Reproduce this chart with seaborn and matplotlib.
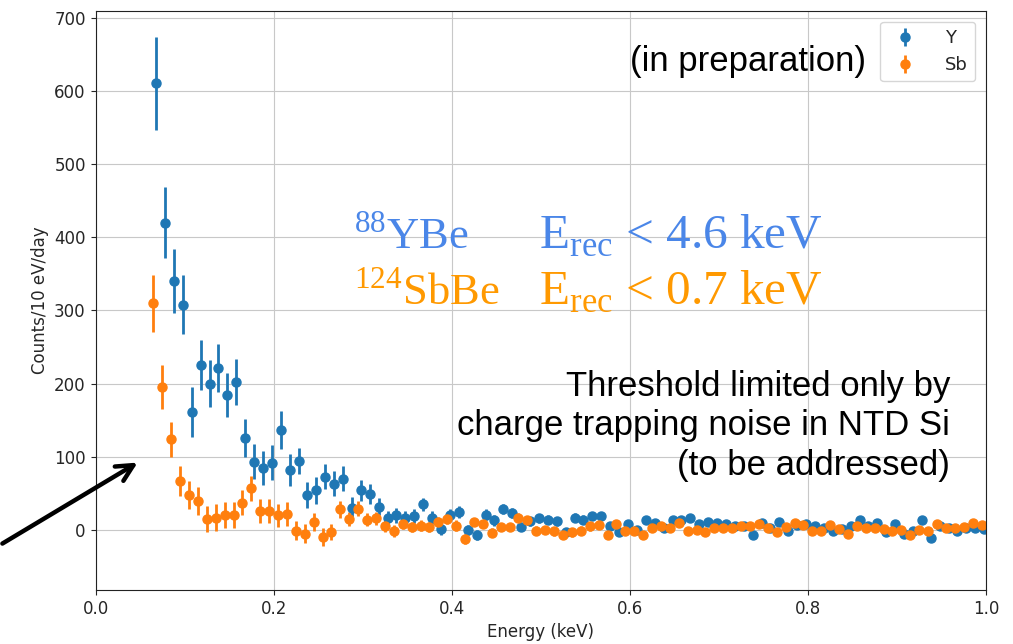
import numpy as np
import pandas as pd
import matplotlib
matplotlib.use('Agg')
import matplotlib.pyplot as plt
import seaborn as sns

# bin centres (10 eV bins); the Y series is drawn slightly offset from Sb
sb_energy = np.round(np.arange(0.065, 1.0, 0.01), 3)
y_energy = np.round(sb_energy + 0.003, 3)

y_counts = [610, 420, 340, 308, 161, 225, 200, 221, 184, 202,
            126, 93, 85, 92, 137, 82, 94, 48, 54, 73,
            63, 70, 30, 54, 49, 32, 16, 20, 17, 19,
            35, 17, 1, 21, 25, 0, -7, 21, 13, 29,
            23, 4, 12, 16, 14, 12, -3, 17, 14, 19,
            19, 5, -3, 8, 0, 13, 9, 3, 13, 14,
            16, 8, 11, 9, 8, 5, 5, -7, 9, 2,
            11, -2, 7, 8, 6, 3, -1, 1, 5, 13,
            6, 9, -3, 8, -5, -1, 13, -11, 5, 3,
            -2, 2, 2, 1]
y_err = [63, 49, 44, 40, 34, 34, 32, 33, 30, 31,
         26, 24, 23, 24, 26, 22, 18, 18, 18, 17,
         17, 17, 15, 14, 14, 12, 10, 10, 9, 9,
         9, 9, 8, 8, 8, 7, 7, 7, 7, 7,
         7, 6, 6, 6, 6, 6, 6, 6, 6, 6,
         5, 5, 5, 5, 5, 5, 5, 5, 5, 5,
         4, 4, 4, 4, 4, 4, 4, 4, 4, 4,
         4, 4, 4, 4, 4, 4, 4, 4, 4, 4,
         4, 4, 4, 4, 4, 4, 4, 4, 4, 4,
         4, 4, 4, 4]

sb_counts = [310, 195, 124, 67, 48, 39, 15, 17, 20, 20,
             37, 57, 26, 26, 20, 22, -1, -5, 11, -10,
             -3, 28, 15, 29, 14, 16, 5, -1, 8, 4,
             6, 4, 11, 15, 6, -12, 11, 8, -4, 4,
             4, 17, 13, -1, 0, -2, -7, -3, -1, 5,
             7, -7, 8, -1, -1, -7, 2, 5, 2, 10,
             -1, 0, -3, 2, 2, 2, 5, 5, 8, 2,
             -3, 4, 10, 7, -1, -1, 7, 1, -5, 5,
             2, 2, 1, -2, 0, -7, 0, -2, 8, 2,
             2, 4, 10, 7]
sb_err = [39, 30, 24, 20, 19, 19, 18, 18, 18, 18,
          17, 17, 16, 16, 16, 16, 13, 13, 12, 12,
          11, 11, 10, 10, 9, 9, 8, 8, 7, 7,
          7, 7, 7, 7, 7, 7, 6, 6, 6, 6,
          6, 6, 6, 6, 6, 6, 6, 6, 6, 6,
          5, 5, 5, 5, 5, 5, 5, 5, 5, 5,
          4, 4, 4, 4, 4, 4, 4, 4, 4, 4,
          4, 4, 4, 4, 4, 4, 4, 4, 4, 4,
          4, 4, 4, 4, 4, 4, 4, 4, 4, 4,
          4, 4, 4, 4]

df = pd.concat([
    pd.DataFrame({'energy': y_energy, 'counts': y_counts, 'err': y_err, 'source': 'Y'}),
    pd.DataFrame({'energy': sb_energy, 'counts': sb_counts, 'err': sb_err, 'source': 'Sb'}),
])

sns.set_style('ticks', {'axes.grid': True, 'grid.color': '#c8c8c8', 'axes.edgecolor': '#222222'})
plt.rcParams['mathtext.fontset'] = 'custom'
plt.rcParams['mathtext.rm'] = 'Liberation Serif'
palette = {'Y': '#1f77b4', 'Sb': '#ff7f0e'}

fig = plt.figure(figsize=(10.13, 6.44), dpi=100)
ax = fig.add_axes([0.0943, 0.0839, 0.879, 0.899])

#errorbars + markers for each source
for name, grp in df.groupby('source', sort=False):
    ax.errorbar(grp['energy'], grp['counts'], yerr=grp['err'], fmt='o',
                color=palette[name], ms=6.5, elinewidth=2, capsize=0, label=name)

ax.set_xlim(0, 1.0)
ax.set_ylim(-82, 709)
ax.set_xticks([0.0, 0.2, 0.4, 0.6, 0.8, 1.0])
ax.set_yticks(range(0, 701, 100))
ax.tick_params(labelsize=12)
ax.set_xlabel('Energy (keV)', fontsize=12, labelpad=4)
ax.set_ylabel('Counts/10 eV/day', fontsize=12)
ax.legend(loc='upper right', fontsize=13, handletextpad=1.2, borderaxespad=0.6)

#annotations
ax.text(0.865, 0.912, '(in preparation)', transform=ax.transAxes, ha='right', va='center',
        fontsize=25, family='Liberation Sans', color='black')
ax.text(0.96, 0.284, 'Threshold limited only by\ncharge trapping noise in NTD Si\n(to be addressed)',
        transform=ax.transAxes, ha='right', va='center', fontsize=25,
        family='Liberation Sans', linespacing=1.25, color='black')

blue_txt = '#4a86e8'
orange_txt = '#ff9900'
ax.text(0.29, 0.589, r'$^{88}$YBe', transform=ax.transAxes, fontsize=32,
        family='Liberation Serif', color=blue_txt, va='baseline')
ax.text(0.498, 0.589, r'E$_{\mathrm{rec}}$ < 4.6 keV', transform=ax.transAxes, fontsize=35.5,
        family='Liberation Serif', color=blue_txt, va='baseline')
ax.text(0.29, 0.4925, r'$^{124}$SbBe', transform=ax.transAxes, fontsize=32,
        family='Liberation Serif', color=orange_txt, va='baseline')
ax.text(0.498, 0.4925, r'E$_{\mathrm{rec}}$ < 0.7 keV', transform=ax.transAxes, fontsize=35.5,
        family='Liberation Serif', color=orange_txt, va='baseline')

ax.annotate('', xy=(0.05, 94), xycoords='data', xytext=(0, 99), textcoords='figure pixels',
            arrowprops=dict(arrowstyle='->', lw=3.2, color='black', mutation_scale=30),
            annotation_clip=False)

fig.savefig('out.png', dpi=100)
